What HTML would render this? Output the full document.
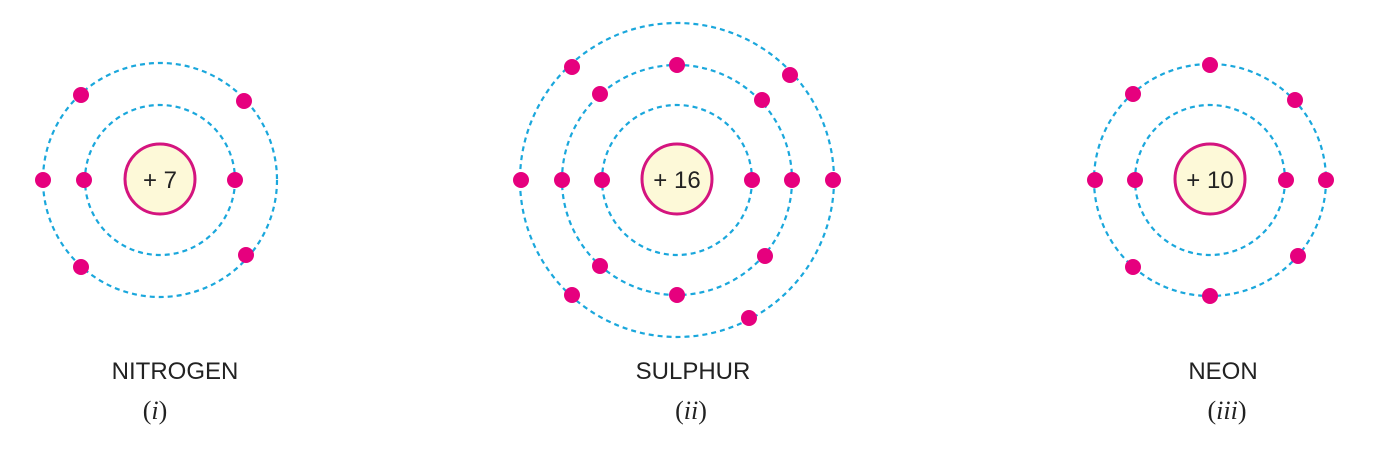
<!DOCTYPE html>
<html><head><style>body{margin:0;background:#fff}</style></head><body>
<svg width="1382" height="444" xmlns="http://www.w3.org/2000/svg">
<g fill="none" stroke="#1aa7dc" stroke-width="2.2" stroke-dasharray="5,4">
<circle cx="160" cy="180" r="75"/><circle cx="160" cy="180" r="117"/>
<circle cx="677" cy="180" r="75"/><circle cx="677" cy="180" r="115"/><circle cx="677" cy="180" r="157"/>
<circle cx="1210" cy="180" r="75"/><circle cx="1210" cy="180" r="116"/>
</g>
<g fill="#fdf9d8" stroke="#d4147f" stroke-width="3">
<circle cx="160" cy="179" r="35"/><circle cx="677" cy="179" r="35"/><circle cx="1210" cy="179" r="35"/>
</g>
<g fill="#e6007e">
<circle cx="84" cy="180" r="8"/><circle cx="235" cy="180" r="8"/>
<circle cx="81" cy="95" r="8"/><circle cx="244" cy="101" r="8"/><circle cx="43" cy="180" r="8"/><circle cx="81" cy="267" r="8"/><circle cx="246" cy="255" r="8"/>
<circle cx="602" cy="180" r="8"/><circle cx="752" cy="180" r="8"/>
<circle cx="562" cy="180" r="8"/><circle cx="792" cy="180" r="8"/><circle cx="677" cy="65" r="8"/><circle cx="677" cy="295" r="8"/><circle cx="600" cy="94" r="8"/><circle cx="762" cy="100" r="8"/><circle cx="600" cy="266" r="8"/><circle cx="765" cy="256" r="8"/>
<circle cx="521" cy="180" r="8"/><circle cx="833" cy="180" r="8"/><circle cx="572" cy="67" r="8"/><circle cx="790" cy="75" r="8"/><circle cx="572" cy="295" r="8"/><circle cx="749" cy="318" r="8"/>
<circle cx="1135" cy="180" r="8"/><circle cx="1286" cy="180" r="8"/>
<circle cx="1095" cy="180" r="8"/><circle cx="1326" cy="180" r="8"/><circle cx="1210" cy="65" r="8"/><circle cx="1210" cy="296" r="8"/><circle cx="1133" cy="94" r="8"/><circle cx="1295" cy="100" r="8"/><circle cx="1133" cy="267" r="8"/><circle cx="1298" cy="256" r="8"/>
</g>
<g font-family="Liberation Sans, sans-serif" font-size="24" fill="#222" text-anchor="middle">
<text x="160" y="188">+ 7</text><text x="677" y="188">+ 16</text><text x="1210" y="188">+ 10</text>
<text x="175" y="379">NITROGEN</text><text x="693" y="379">SULPHUR</text><text x="1223" y="379">NEON</text>
</g>
<g font-family="Liberation Serif, serif" font-size="26" fill="#222" text-anchor="middle">
<text x="155" y="419">(<tspan font-style="italic">i</tspan>)</text>
<text x="691" y="419">(<tspan font-style="italic">ii</tspan>)</text>
<text x="1227" y="419">(<tspan font-style="italic">iii</tspan>)</text>
</g>
</svg>
</body></html>
